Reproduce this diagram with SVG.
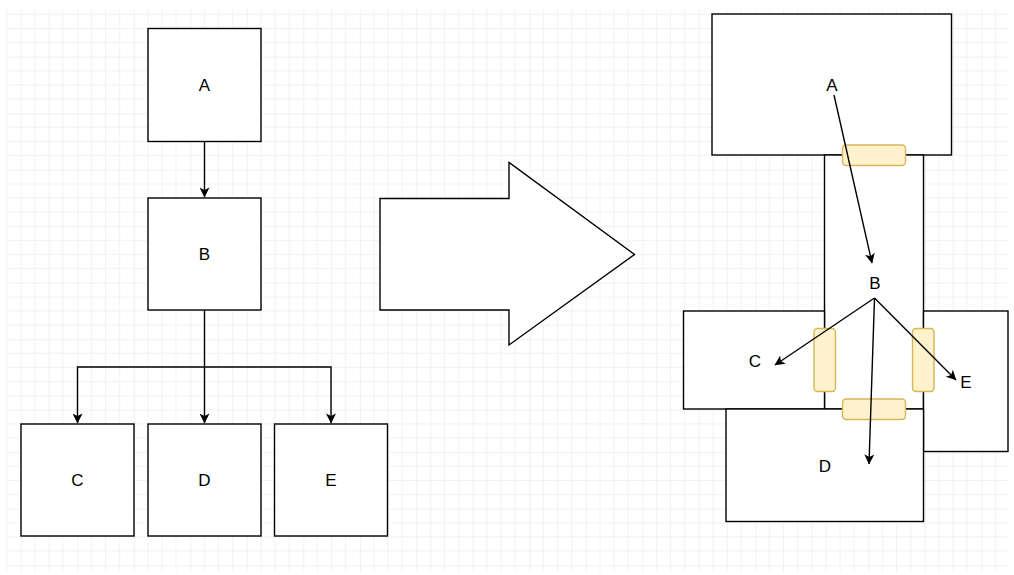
<svg xmlns="http://www.w3.org/2000/svg" width="1014" height="575" viewBox="0 0 1014 575">
<defs>
<pattern id="grid" patternUnits="userSpaceOnUse" x="20.8" y="0.2" width="56.5" height="56.5">
<path d="M14.125,0V56.5M28.25,0V56.5M42.375,0V56.5M0,14.125H56.5M0,28.25H56.5M0,42.375H56.5" stroke="#f1f1f1" stroke-width="1" fill="none"/>
<path d="M0,0V56.5M0,0H56.5" stroke="#e4e4e4" stroke-width="1" fill="none"/>
</pattern>
<marker id="arr" viewBox="0 0 10 10" refX="9.5" refY="5" markerWidth="11" markerHeight="10" markerUnits="userSpaceOnUse" orient="auto">
<path d="M0,0 L10,5 L0,10 L2.5,5 z" fill="#000"/>
</marker>
<style>
.box{fill:#fff;stroke:#000;stroke-width:1.4}
.hl{fill:#fff2cc;stroke:#d6b656;stroke-width:1.4}
.edge{fill:none;stroke:#000;stroke-width:1.4}
.lbl{font-family:"Liberation Sans",Helvetica,Arial,sans-serif;font-size:17px;fill:#000;text-anchor:middle;dominant-baseline:central}
</style>
</defs>
<rect width="1014" height="575" fill="#fff"/>
<rect x="6" y="9" width="1002" height="563" fill="url(#grid)"/>

<g id="left-A"><rect class="box" x="148" y="28.5" width="113" height="113"/><text class="lbl" x="204.5" y="85">A</text></g>
<g id="left-B"><rect class="box" x="148" y="198" width="113" height="112"/><text class="lbl" x="204.5" y="254">B</text></g>
<g id="left-C"><rect class="box" x="21" y="424" width="113" height="112"/><text class="lbl" x="77.5" y="480">C</text></g>
<g id="left-D"><rect class="box" x="148" y="424" width="113" height="112"/><text class="lbl" x="204.5" y="480">D</text></g>
<g id="left-E"><rect class="box" x="274.5" y="424" width="113" height="112"/><text class="lbl" x="331" y="480">E</text></g>

<g id="left-connectors">
<path class="edge" d="M204.5,141.5V197" marker-end="url(#arr)"/>
<path class="edge" d="M204.5,310V423" marker-end="url(#arr)"/>
<path class="edge" d="M204.5,367H77.5V423" marker-end="url(#arr)"/>
<path class="edge" d="M204.5,367H331V423" marker-end="url(#arr)"/>
</g>

<g id="big-arrow"><path class="box" d="M380,198.5H509V162.5L634.5,254.5L509,345V310H380Z"/></g>

<g id="right-A"><rect class="box" x="712" y="14" width="239.5" height="141"/></g>
<g id="right-B"><rect class="box" x="824.5" y="155" width="99" height="254"/></g>
<g id="right-C"><rect class="box" x="683.5" y="311" width="141" height="98"/></g>
<g id="right-E"><rect class="box" x="923.5" y="311" width="84.5" height="140.5"/></g>
<g id="right-D"><rect class="box" x="726" y="409" width="197.5" height="112.5"/></g>

<g id="highlights">
<rect class="hl" x="842.5" y="145" width="63" height="20.5" rx="3.5"/>
<rect class="hl" x="814" y="328.5" width="21.5" height="63" rx="3.5"/>
<rect class="hl" x="912.5" y="328.5" width="21.5" height="63" rx="3.5"/>
<rect class="hl" x="842.5" y="399" width="63" height="20.5" rx="3.5"/>
</g>

<g id="right-connectors">
<path class="edge" d="M834,95L872,263" marker-end="url(#arr)"/>
<path class="edge" d="M874.5,298L775,365" marker-end="url(#arr)"/>
<path class="edge" d="M874.5,298L956,380" marker-end="url(#arr)"/>
<path class="edge" d="M874.5,298L869,464" marker-end="url(#arr)"/>
</g>

<g id="right-labels">
<text class="lbl" x="832" y="85">A</text>
<text class="lbl" x="875" y="283">B</text>
<text class="lbl" x="755" y="361">C</text>
<text class="lbl" x="825" y="466">D</text>
<text class="lbl" x="966" y="382">E</text>
</g>
</svg>
